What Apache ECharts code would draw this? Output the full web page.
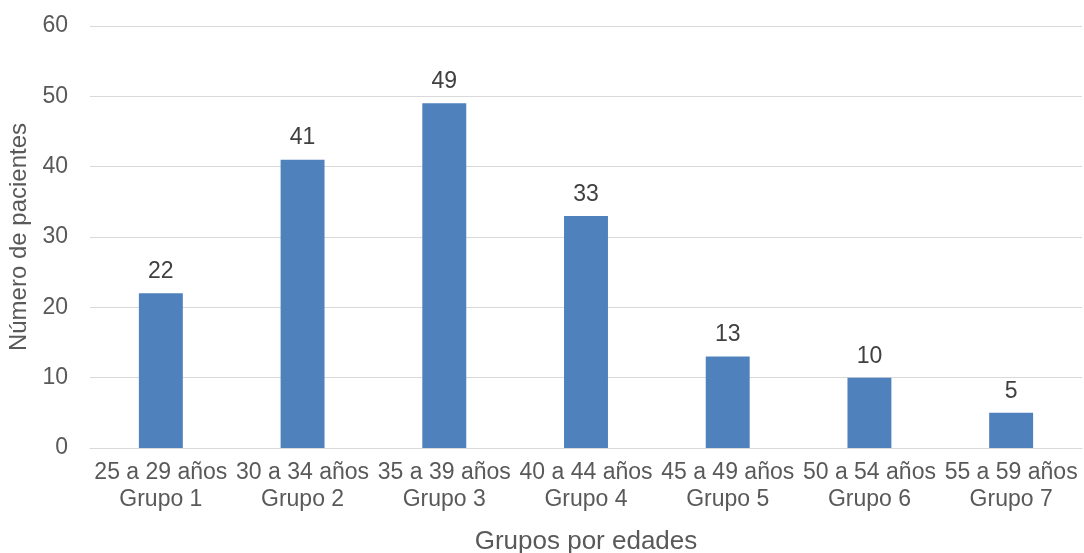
<!DOCTYPE html>
<html>
<head>
<meta charset="utf-8">
<script src="https://cdn.jsdelivr.net/npm/echarts@6/dist/echarts.min.js"></script>
<style>
  html, body { margin: 0; padding: 0; background: #fff; }
  #main { width: 1084px; height: 553px; }
</style>
</head>
<body>
<div id="main"></div>
<script>
// data
const rangos = ['25 a 29 años', '30 a 34 años', '35 a 39 años', '40 a 44 años', '45 a 49 años', '50 a 54 años', '55 a 59 años'];
const grupos = ['Grupo 1', 'Grupo 2', 'Grupo 3', 'Grupo 4', 'Grupo 5', 'Grupo 6', 'Grupo 7'];
const pacientes = [22, 41, 49, 33, 13, 10, 5];

const categorias = rangos.map((r, i) => r + '\n' + grupos[i]);
const fuente = 'Liberation Sans, Arial, sans-serif';

const myChart = echarts.init(document.getElementById('main'));
const option = {
  animation: false,
  grid: { left: 90, right: 2, top: 26, bottom: 105, outerBoundsMode: 'none', containLabel: false },
  xAxis: {
    type: 'category',
    data: categorias,
    name: 'Grupos por edades',
    nameLocation: 'middle',
    nameGap: 81,
    nameTextStyle: { fontFamily: fuente, fontSize: 26, color: '#595959' },
    axisLine: { lineStyle: { color: '#d9d9d9', width: 1 } },
    axisTick: { show: false },
    axisLabel: {
      interval: 0,
      margin: 11,
      fontFamily: fuente,
      fontSize: 23,
      color: '#595959',
      lineHeight: 27
    }
  },
  yAxis: {
    type: 'value',
    min: 0,
    max: 60,
    interval: 10,
    name: 'Número de pacientes',
    nameLocation: 'middle',
    nameGap: 54,
    nameTextStyle: { fontFamily: fuente, fontSize: 24, color: '#595959' },
    axisLine: { show: false },
    axisTick: { show: false },
    axisLabel: { fontFamily: fuente, fontSize: 23, color: '#595959', margin: 22 },
    splitLine: { lineStyle: { color: '#d9d9d9', width: 1 } }
  },
  series: [
    {
      name: 'pacientes',
      type: 'bar',
      barWidth: '31%',
      data: pacientes,
      itemStyle: { color: '#4f81bd' },
      label: {
        show: true,
        position: 'top',
        distance: 10,
        fontFamily: fuente,
        fontSize: 23,
        color: '#404040'
      }
    }
  ]
};
myChart.setOption(option);
</script>
</body>
</html>
